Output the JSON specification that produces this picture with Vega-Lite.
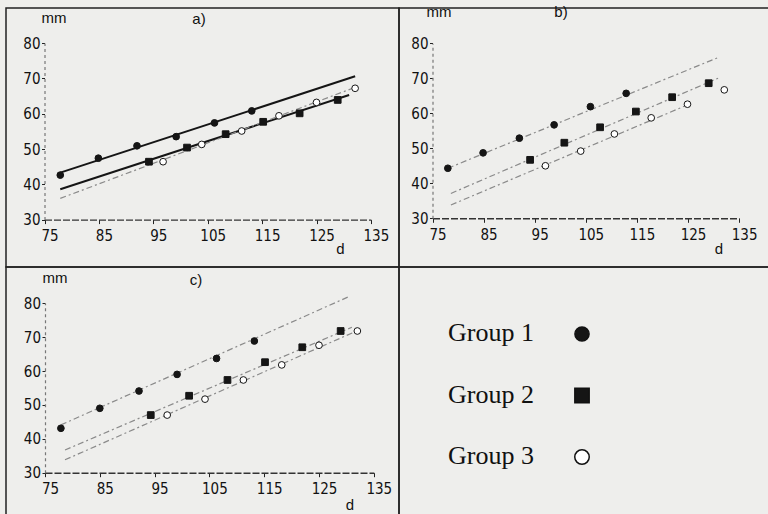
{
  "$schema": "https://vega.github.io/schema/vega-lite/v6.json",
  "background": "#eeeeec",
  "padding": {"left": 5, "top": 3, "right": 0, "bottom": 0},
  "columns": 2,
  "spacing": 0,
  "bounds": "flush",
  "config": {
    "view": {"stroke": "#222", "strokeWidth": 1.5},
    "axis": {
      "labelFont": "Liberation Sans Narrow, Arial Narrow, DejaVu Sans Condensed, sans-serif",
      "labelFontSize": 15,
      "labelColor": "#111",
      "titleFont": "Liberation Sans, Arial, sans-serif",
      "titleFontSize": 15,
      "titleFontWeight": "normal",
      "titleColor": "#111",
      "grid": false,
      "tickColor": "#222",
      "labelFlush": false,
      "labelOverlap": false
    },
    "axisX": {"domainColor": "#333", "domainWidth": 1.4, "domainDash": [7, 2], "tickSize": 4, "labelPadding": 12, "labelBaseline": "middle", "labelOffset": 5, "titleAngle": 0, "titleAlign": "center", "titleBaseline": "alphabetic"},
    "axisY": {"domainColor": "#777", "domainWidth": 1.2, "domainDash": [3, 3], "tickSize": 3, "labelPadding": 1.5, "labelAlign": "right", "labelBaseline": "middle", "titleAngle": 0, "titleAlign": "left", "titleBaseline": "alphabetic"},
    "title": {"font": "Liberation Sans, Arial, sans-serif", "fontSize": 15, "fontWeight": "normal", "color": "#111", "baseline": "alphabetic", "frame": "group", "anchor": "middle"}
  },
  "datasets": {
    "points": [
      {"panel": "a", "group": "Group 1", "d": 77.9, "mm": 42.6},
      {"panel": "a", "group": "Group 1", "d": 84.9, "mm": 47.4},
      {"panel": "a", "group": "Group 1", "d": 92.0, "mm": 50.9},
      {"panel": "a", "group": "Group 1", "d": 99.2, "mm": 53.5},
      {"panel": "a", "group": "Group 1", "d": 106.25, "mm": 57.4},
      {"panel": "a", "group": "Group 1", "d": 113.1, "mm": 60.8},
      {"panel": "a", "group": "Group 2", "d": 94.2, "mm": 46.4},
      {"panel": "a", "group": "Group 2", "d": 101.2, "mm": 50.4},
      {"panel": "a", "group": "Group 2", "d": 108.3, "mm": 54.2},
      {"panel": "a", "group": "Group 2", "d": 115.2, "mm": 57.7},
      {"panel": "a", "group": "Group 2", "d": 121.9, "mm": 60.1},
      {"panel": "a", "group": "Group 2", "d": 128.9, "mm": 63.9},
      {"panel": "a", "group": "Group 3", "d": 96.8, "mm": 46.4},
      {"panel": "a", "group": "Group 3", "d": 103.9, "mm": 51.3},
      {"panel": "a", "group": "Group 3", "d": 111.25, "mm": 55.1},
      {"panel": "a", "group": "Group 3", "d": 118.1, "mm": 59.4},
      {"panel": "a", "group": "Group 3", "d": 125.0, "mm": 63.2},
      {"panel": "a", "group": "Group 3", "d": 132.1, "mm": 67.2},
      {"panel": "b", "group": "Group 1", "d": 78.0, "mm": 44.3},
      {"panel": "b", "group": "Group 1", "d": 84.9, "mm": 48.7},
      {"panel": "b", "group": "Group 1", "d": 92.0, "mm": 52.9},
      {"panel": "b", "group": "Group 1", "d": 98.8, "mm": 56.7},
      {"panel": "b", "group": "Group 1", "d": 105.9, "mm": 61.9},
      {"panel": "b", "group": "Group 1", "d": 112.9, "mm": 65.7},
      {"panel": "b", "group": "Group 2", "d": 94.1, "mm": 46.7},
      {"panel": "b", "group": "Group 2", "d": 100.8, "mm": 51.6},
      {"panel": "b", "group": "Group 2", "d": 107.8, "mm": 56.0},
      {"panel": "b", "group": "Group 2", "d": 114.8, "mm": 60.5},
      {"panel": "b", "group": "Group 2", "d": 121.9, "mm": 64.6},
      {"panel": "b", "group": "Group 2", "d": 129.05, "mm": 68.6},
      {"panel": "b", "group": "Group 3", "d": 97.1, "mm": 45.0},
      {"panel": "b", "group": "Group 3", "d": 104.0, "mm": 49.2},
      {"panel": "b", "group": "Group 3", "d": 110.6, "mm": 54.1},
      {"panel": "b", "group": "Group 3", "d": 117.8, "mm": 58.7},
      {"panel": "b", "group": "Group 3", "d": 124.9, "mm": 62.6},
      {"panel": "b", "group": "Group 3", "d": 132.1, "mm": 66.7},
      {"panel": "c", "group": "Group 1", "d": 77.9, "mm": 43.1},
      {"panel": "c", "group": "Group 1", "d": 85.0, "mm": 49.0},
      {"panel": "c", "group": "Group 1", "d": 92.15, "mm": 54.1},
      {"panel": "c", "group": "Group 1", "d": 99.1, "mm": 59.0},
      {"panel": "c", "group": "Group 1", "d": 106.3, "mm": 63.7},
      {"panel": "c", "group": "Group 1", "d": 113.2, "mm": 68.85},
      {"panel": "c", "group": "Group 2", "d": 94.3, "mm": 47.0},
      {"panel": "c", "group": "Group 2", "d": 101.3, "mm": 52.7},
      {"panel": "c", "group": "Group 2", "d": 108.3, "mm": 57.35},
      {"panel": "c", "group": "Group 2", "d": 115.15, "mm": 62.6},
      {"panel": "c", "group": "Group 2", "d": 121.95, "mm": 67.0},
      {"panel": "c", "group": "Group 2", "d": 128.95, "mm": 71.8},
      {"panel": "c", "group": "Group 3", "d": 97.3, "mm": 47.0},
      {"panel": "c", "group": "Group 3", "d": 104.2, "mm": 51.7},
      {"panel": "c", "group": "Group 3", "d": 111.2, "mm": 57.35},
      {"panel": "c", "group": "Group 3", "d": 118.2, "mm": 61.8},
      {"panel": "c", "group": "Group 3", "d": 125.0, "mm": 67.6},
      {"panel": "c", "group": "Group 3", "d": 132.0, "mm": 71.8}
    ],
    "fits": [
      {"panel": "a", "group": "Group 1", "d": 77.9, "mm": 43.3},
      {"panel": "a", "group": "Group 1", "d": 132.1, "mm": 70.6},
      {"panel": "a", "group": "Group 2", "d": 77.9, "mm": 38.6},
      {"panel": "a", "group": "Group 2", "d": 131.0, "mm": 65.3},
      {"panel": "a", "group": "Group 3", "d": 77.9, "mm": 36.0},
      {"panel": "a", "group": "Group 3", "d": 132.0, "mm": 67.4},
      {"panel": "b", "group": "Group 1", "d": 78.0, "mm": 44.3},
      {"panel": "b", "group": "Group 1", "d": 131.0, "mm": 76.0},
      {"panel": "b", "group": "Group 2", "d": 78.6, "mm": 37.1},
      {"panel": "b", "group": "Group 2", "d": 131.0, "mm": 70.1},
      {"panel": "b", "group": "Group 3", "d": 78.6, "mm": 33.8},
      {"panel": "b", "group": "Group 3", "d": 124.9, "mm": 62.4},
      {"panel": "c", "group": "Group 1", "d": 77.9, "mm": 44.1},
      {"panel": "c", "group": "Group 1", "d": 130.4, "mm": 81.9},
      {"panel": "c", "group": "Group 2", "d": 78.65, "mm": 36.7},
      {"panel": "c", "group": "Group 2", "d": 131.0, "mm": 72.9},
      {"panel": "c", "group": "Group 3", "d": 78.65, "mm": 33.8},
      {"panel": "c", "group": "Group 3", "d": 132.0, "mm": 71.9}
    ],
    "legend": [
      {"group": "Group 1"},
      {"group": "Group 2"},
      {"group": "Group 3"}
    ]
  },
  "concat": [
    {
      "width": 393,
      "height": 259,
      "title": {"text": "a)", "offset": -19, "dx": -3.5},
      "encoding": {
        "x": {"field": "d", "type": "quantitative", "scale": {"domain": [75, 135], "range": [38.5, 364.9], "zero": false, "nice": false},
              "axis": {"title": "d", "values": [75, 85, 95, 105, 115, 125, 135], "offset": -47.4, "titleX": 334, "titleY": 34}},
        "y": {"field": "mm", "type": "quantitative", "scale": {"domain": [30, 80], "range": [211.6, 35.1], "zero": false, "nice": false},
              "axis": {"title": "mm", "values": [30, 40, 50, 60, 70, 80], "offset": -38.5, "titleX": -3.5, "titleY": 14}}
      },
      "layer": [
        {"data": {"name": "fits"}, "transform": [{"filter": "datum.panel == 'a' && datum.group != 'Group 3'"}],
         "mark": {"type": "line", "color": "#151515", "strokeWidth": 2}, "encoding": {"detail": {"field": "group"}}},
        {"data": {"name": "fits"}, "transform": [{"filter": "datum.panel == 'a' && datum.group == 'Group 3'"}],
         "mark": {"type": "line", "color": "#8a8a8a", "strokeWidth": 1.2, "strokeDash": [6, 3, 2, 3]}, "encoding": {"detail": {"field": "group"}}},
        {"data": {"name": "points"}, "transform": [{"filter": "datum.panel == 'a'"}],
         "mark": {"type": "point", "filled": true, "size": 45, "stroke": "#151515", "strokeWidth": 1, "opacity": 1},
         "encoding": {
           "shape": {"field": "group", "type": "nominal", "scale": {"domain": ["Group 1", "Group 2", "Group 3"], "range": ["circle", "square", "circle"]}, "legend": null},
           "fill": {"field": "group", "type": "nominal", "scale": {"domain": ["Group 1", "Group 2", "Group 3"], "range": ["#151515", "#151515", "#ffffff"]}, "legend": null}
         }}
      ]
    },
    {
      "width": 370,
      "height": 259,
      "title": {"text": "b)", "offset": -16, "dx": -23},
      "encoding": {
        "x": {"field": "d", "type": "quantitative", "scale": {"domain": [75, 135], "range": [33.5, 340.1], "zero": false, "nice": false},
              "axis": {"title": "d", "values": [75, 85, 95, 105, 115, 125, 135], "offset": -48.7, "titleX": 319.5, "titleY": 35}},
        "y": {"field": "mm", "type": "quantitative", "scale": {"domain": [30, 80], "range": [210.3, 35.3], "zero": false, "nice": false},
              "axis": {"title": "mm", "values": [30, 40, 50, 60, 70, 80], "offset": -33.5, "titleX": -6.5, "titleY": 8}}
      },
      "layer": [
        {"data": {"name": "fits"}, "transform": [{"filter": "datum.panel == 'b'"}],
         "mark": {"type": "line", "color": "#8a8a8a", "strokeWidth": 1.2, "strokeDash": [6, 3, 2, 3]}, "encoding": {"detail": {"field": "group"}}},
        {"data": {"name": "points"}, "transform": [{"filter": "datum.panel == 'b'"}],
         "mark": {"type": "point", "filled": true, "size": 45, "stroke": "#151515", "strokeWidth": 1, "opacity": 1},
         "encoding": {
           "shape": {"field": "group", "type": "nominal", "scale": {"domain": ["Group 1", "Group 2", "Group 3"], "range": ["circle", "square", "circle"]}, "legend": null},
           "fill": {"field": "group", "type": "nominal", "scale": {"domain": ["Group 1", "Group 2", "Group 3"], "range": ["#151515", "#151515", "#ffffff"]}, "legend": null}
         }}
      ]
    },
    {
      "width": 393,
      "height": 252,
      "title": {"text": "c)", "offset": -21, "dx": -6.5},
      "encoding": {
        "x": {"field": "d", "type": "quantitative", "scale": {"domain": [75, 135], "range": [39, 367.8], "zero": false, "nice": false},
              "axis": {"title": "d", "values": [75, 85, 95, 105, 115, 125, 135], "offset": -46.3, "titleX": 343.5, "titleY": 37}},
        "y": {"field": "mm", "type": "quantitative", "scale": {"domain": [30, 80], "range": [205.7, 36.2], "zero": false, "nice": false},
              "axis": {"title": "mm", "values": [30, 40, 50, 60, 70, 80], "offset": -39, "titleX": -3, "titleY": 15}}
      },
      "layer": [
        {"data": {"name": "fits"}, "transform": [{"filter": "datum.panel == 'c'"}],
         "mark": {"type": "line", "color": "#8a8a8a", "strokeWidth": 1.2, "strokeDash": [6, 3, 2, 3]}, "encoding": {"detail": {"field": "group"}}},
        {"data": {"name": "points"}, "transform": [{"filter": "datum.panel == 'c'"}],
         "mark": {"type": "point", "filled": true, "size": 45, "stroke": "#151515", "strokeWidth": 1, "opacity": 1},
         "encoding": {
           "shape": {"field": "group", "type": "nominal", "scale": {"domain": ["Group 1", "Group 2", "Group 3"], "range": ["circle", "square", "circle"]}, "legend": null},
           "fill": {"field": "group", "type": "nominal", "scale": {"domain": ["Group 1", "Group 2", "Group 3"], "range": ["#151515", "#151515", "#ffffff"]}, "legend": null}
         }}
      ]
    },
    {
      "width": 370,
      "height": 252,
      "data": {"name": "legend"},
      "encoding": {
        "y": {"field": "group", "type": "nominal", "scale": {"type": "point", "padding": 0, "domain": ["Group 1", "Group 2", "Group 3"], "range": [67, 190]}, "axis": null}
      },
      "layer": [
        {"mark": {"type": "text", "align": "right", "baseline": "alphabetic", "dy": 7, "font": "Liberation Serif, Times New Roman, serif", "fontSize": 26, "color": "#111"},
         "encoding": {
           "x": {"datum": "label", "type": "nominal", "scale": {"type": "point", "padding": 0, "domain": ["label", "symbol"], "range": [135, 183]}, "axis": null},
           "text": {"field": "group"}
         }},
        {"mark": {"type": "point", "filled": true, "stroke": "#111", "strokeWidth": 1.5, "opacity": 1},
         "encoding": {
           "x": {"datum": "symbol", "type": "nominal", "scale": {"type": "point", "padding": 0, "domain": ["label", "symbol"], "range": [135, 183]}, "axis": null},
           "shape": {"field": "group", "type": "nominal", "scale": {"domain": ["Group 1", "Group 2", "Group 3"], "range": ["circle", "square", "circle"]}, "legend": null},
           "fill": {"field": "group", "type": "nominal", "scale": {"domain": ["Group 1", "Group 2", "Group 3"], "range": ["#151515", "#151515", "#ffffff"]}, "legend": null},
           "size": {"field": "group", "type": "ordinal", "scale": {"domain": ["Group 1", "Group 2", "Group 3"], "range": [200, 210, 120]}, "legend": null}
         }}
      ]
    }
  ]
}
